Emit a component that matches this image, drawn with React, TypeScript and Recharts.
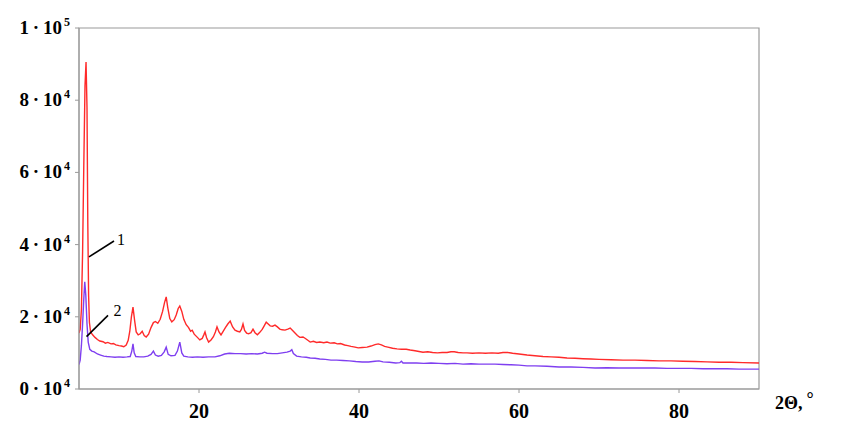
import React from 'react';
import { LineChart, Line, XAxis, YAxis, ReferenceArea, ReferenceLine, ReferenceDot } from 'recharts';

const redTheta = [
  5.0, 5.15, 5.3, 5.45, 5.6, 5.75, 5.88, 6.0, 6.1, 6.2, 6.3, 6.45, 6.7, 7.0, 7.3, 7.6, 8.0, 8.3, 8.6, 9.0,
  9.3, 9.6, 10.0, 10.3, 10.6, 10.9, 11.15, 11.35, 11.55, 11.75, 11.95, 12.15, 12.4, 12.65, 12.9, 13.15, 13.4, 13.7, 14.0, 14.3,
  14.55, 14.85, 15.15, 15.45, 15.7, 15.9, 16.1, 16.35, 16.6, 16.9, 17.15, 17.4, 17.6, 17.85, 18.1, 18.4, 18.7, 18.95, 19.15, 19.4,
  19.8, 20.1, 20.4, 20.6, 20.75, 20.95, 21.2, 21.5, 21.8, 22.05, 22.25, 22.5, 22.75, 23.0, 23.3, 23.6, 23.9, 24.2, 24.5, 24.8,
  25.1, 25.3, 25.5, 25.7, 25.95, 26.2, 26.5, 26.75, 27.0, 27.3, 27.6, 27.9, 28.15, 28.4, 28.65, 28.9, 29.2, 29.5, 29.8, 30.1,
  30.4, 30.75, 31.1, 31.4, 31.7, 32.0, 32.3, 32.6, 33.0, 33.3, 33.6, 33.9, 34.3, 34.7, 35.1, 35.6, 36.0, 36.4, 36.9, 37.3,
  37.7, 38.2, 38.6, 39.0, 39.5, 39.9, 40.4, 41.0, 41.5, 42.0, 42.4, 42.8, 43.2, 43.6, 44.2, 44.75, 45.3, 45.9, 46.4, 47.0,
  47.5, 48.0, 48.6, 49.2, 49.8, 50.4, 51.0, 51.5, 51.9, 52.4, 53.0, 53.5, 54.2, 55.0, 55.8, 56.6, 57.4, 58.0, 58.6, 59.2,
  60.0, 61.0, 62.0, 63.0, 64.0, 65.0, 66.0, 67.0, 68.0, 69.0, 70.0, 71.5, 73.0, 74.5, 76.0, 77.5, 79.0, 80.5, 82.0, 83.5,
  85.0, 86.5, 88.0, 90.0,
];
const redCounts = [
  15500, 16500, 22000, 38000, 62000, 84000, 90600, 78000, 46000, 26000, 18500, 15800, 15000, 14300, 13700, 13300, 13100, 12700, 12900, 12500,
  12600, 12200, 12000, 11900, 11700, 12200, 13500, 16000, 20000, 22700, 19000, 15800, 15000, 15300, 16000, 14800, 14400, 15200, 17000, 18400,
  18700, 18200, 19300, 21500, 24000, 25500, 22500, 19500, 18600, 19200, 20500, 22300, 23000, 21500, 19300, 17800, 17000, 16000, 16300, 15200,
  14300, 13600, 14000, 15000, 15800, 14200, 13000, 13600, 14500, 15800, 17200, 15800, 15000, 15900, 17000, 18000, 18800, 17200, 16300, 16000,
  15800, 16500, 18000, 16200, 15500, 15300, 15600, 16600, 15600, 15000, 15700, 16500, 17500, 18500, 18000, 17500, 17400, 17700, 17200, 16600,
  16400, 16300, 16600, 16900, 16200, 15500, 14800, 14300, 14400, 14000, 13500, 13000, 13200, 12900, 13000, 12800, 13000, 12700, 12800, 12500,
  12600, 12200, 12000, 11800, 11600, 11400, 11500, 11600, 11900, 12300, 12500, 12200, 11800, 11600, 11300, 11100, 11000, 11000, 10800, 10600,
  10400, 10200, 10300, 10100, 10000, 10100, 10100, 10300, 10300, 10100, 10000, 10000, 9900, 10000, 9900, 10000, 9900, 10100, 10100, 9900,
  9700, 9400, 9200, 9000, 8900, 8800, 8600, 8500, 8400, 8300, 8200, 8100, 8000, 8000, 7900, 7800, 7800, 7700, 7600, 7500,
  7400, 7400, 7300, 7200,
];

const violetTheta = [
  5.0, 5.15, 5.3, 5.45, 5.6, 5.72, 5.85, 6.0, 6.15, 6.35, 6.6, 6.9, 7.3, 7.7, 8.1, 8.5, 9.0, 9.5, 10.0, 10.5,
  11.0, 11.4, 11.6, 11.75, 11.9, 12.1, 12.6, 13.1, 13.6, 14.0, 14.3, 14.55, 14.9, 15.3, 15.65, 15.9, 16.15, 16.5, 17.0, 17.3,
  17.6, 17.85, 18.1, 18.6, 19.2, 19.8, 20.5, 21.2, 22.0, 22.6, 23.2, 23.8, 24.5, 25.2, 25.9, 26.6, 27.3, 27.9, 28.2, 28.5,
  29.2, 29.8, 30.4, 31.0, 31.4, 31.6, 31.8, 32.2, 32.8, 33.4, 33.9, 34.5, 35.1, 35.8, 36.5, 37.2, 38.0, 38.8, 39.6, 40.4,
  41.2, 42.0, 42.5, 43.0, 43.8, 44.6, 45.1, 45.3, 45.5, 46.3, 47.2, 48.1, 49.0, 50.0, 51.0, 52.0, 53.0, 54.0, 55.0, 56.0,
  57.0, 58.0, 59.0, 60.0, 61.0, 62.0, 63.5, 65.0, 66.5, 68.0, 69.5, 71.0, 72.5, 74.0, 75.5, 77.0, 78.5, 80.0, 81.5, 83.0,
  84.5, 86.0, 87.5, 90.0,
];
const violetCounts = [
  6800, 8000, 12000, 18000, 25000, 29700, 26000, 18000, 13000, 11000, 10500, 10300, 9700, 9400, 9100, 9000, 8900, 8800, 8900, 8800,
  8900, 9000, 10500, 12500, 10000, 9000, 8900, 8900, 9100, 9600, 10500, 9400, 9100, 9300, 10300, 11600, 9600, 9200, 9300, 10500,
  13000, 10000, 9100, 8900, 8800, 8900, 8800, 8900, 8900, 9200, 9700, 9900, 9800, 9800, 9700, 9800, 9700, 9900, 10200, 9900,
  9800, 9800, 10000, 10200, 10500, 10900, 9800, 9100, 8900, 8800, 8600, 8500, 8300, 8200, 8000, 8000, 7900, 7800, 7600, 7500,
  7500, 7700, 7800, 7500, 7400, 7200, 7300, 7700, 7200, 7200, 7200, 7100, 7200, 7100, 7000, 7100, 6900, 7000, 6900, 6900,
  6900, 6800, 6700, 6600, 6400, 6400, 6300, 6100, 6100, 6000, 5800, 5900, 5800, 5800, 5800, 5800, 5700, 5700, 5700, 5600,
  5600, 5600, 5500, 5500,
];

const xTicks = [20, 40, 60, 80];
const yTicks = [0, 20000, 40000, 60000, 80000, 100000];

const redData = redTheta.map((x, i) => ({ x, y: redCounts[i] }));
const violetData = violetTheta.map((x, i) => ({ x, y: violetCounts[i] }));

const SERIF = '"Liberation Serif", "Times New Roman", serif';

const YTick = (props: any) => {
  const { x, y, payload } = props;
  const v = payload.value as number;
  const main = v === 100000 ? '1' : String(v / 10000);
  const exp = v === 100000 ? '5' : '4';
  return (
    <text x={x} y={y + 6} textAnchor="end" fontFamily={SERIF} fontWeight="bold" fontSize={19} fill="#000">
      {main}{'\u2009·\u2009'}10
      <tspan fontSize={12} dx={2} dy={-8}>{exp}</tspan>
    </text>
  );
};

const XTick = (props: any) => {
  const { x, y, payload } = props;
  return (
    <text x={x} y={y + 23} textAnchor="middle" fontFamily={SERIF} fontWeight="bold" fontSize={20} fill="#000">
      {payload.value}
    </text>
  );
};

const AxisTitle = () => (
  <text x={775} y={409} fontFamily={SERIF} fontWeight="bold" fontSize={18} fill="#000">
    2Θ,
    <tspan dx={4} dy={-4}>°</tspan>
  </text>
);

export default function App() {
  return (
    <div style={{ position: 'absolute', left: 0, top: 0, background: '#fff' }}>
      <LineChart width={841} height={431} margin={{ top: 28, right: 82, bottom: 12, left: 9 }}>
        <XAxis
          type="number"
          dataKey="x"
          domain={[5, 90]}
          ticks={xTicks}
          allowDataOverflow
          height={30}
          stroke="#9a9a9a"
          tickSize={4}
          tickMargin={2}
          tick={<XTick />}
          label={{ content: () => <AxisTitle /> }}
        />
        <YAxis
          type="number"
          dataKey="y"
          domain={[0, 100000]}
          ticks={yTicks}
          allowDataOverflow
          width={70}
          stroke="#9a9a9a"
          tickSize={4}
          tickMargin={5}
          tick={<YTick />}
        />
        <ReferenceArea x1={5} x2={90} y1={0} y2={100000} fill="none" stroke="#9a9a9a" strokeWidth={1.2} />
        <Line data={redData} dataKey="y" type="linear" stroke="#ff2a2a" strokeWidth={1.4} dot={false} isAnimationActive={false} />
        <Line data={violetData} dataKey="y" type="linear" stroke="#7f3ff0" strokeWidth={1.4} dot={false} isAnimationActive={false} />
        <ReferenceLine segment={[{ x: 6.25, y: 36600 }, { x: 9.375, y: 41000 }]} stroke="#000" strokeWidth={1.6} />
        <ReferenceLine segment={[{ x: 5.94, y: 14500 }, { x: 8.625, y: 20400 }]} stroke="#000" strokeWidth={1.6} />
        <ReferenceDot x={10.25} y={41600} r={0} fill="none" stroke="none"
          label={{ value: '1', position: 'center', fontFamily: SERIF, fontSize: 16, fill: '#000' }} />
        <ReferenceDot x={9.8} y={21900} r={0} fill="none" stroke="none"
          label={{ value: '2', position: 'center', fontFamily: SERIF, fontSize: 16, fill: '#000' }} />
      </LineChart>
    </div>
  );
}
